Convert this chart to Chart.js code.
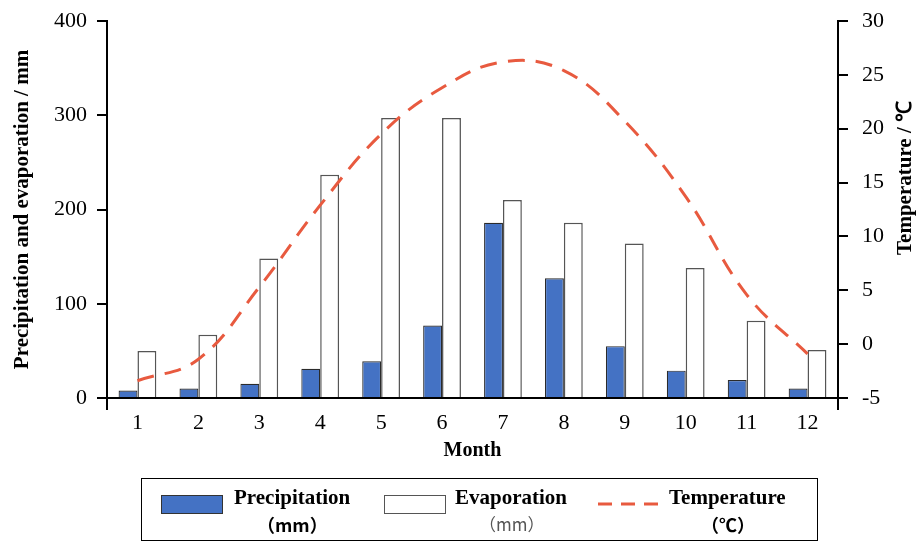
<!DOCTYPE html>
<html>
<head>
<meta charset="utf-8">
<script src="https://cdn.jsdelivr.net/npm/chart.js@4.4.1/dist/chart.umd.min.js"></script>
<style>
  html, body { margin: 0; padding: 0; background: #fff; }
  #wrap { position: relative; width: 917px; height: 543px; }
  #legend {
    position: absolute; left: 141px; top: 478px; width: 675px; height: 61px;
    border: 1px solid #000; font-family: 'Liberation Serif', serif; color: #000;
  }
  .item { position: absolute; top: 0; height: 61px; }
  .sw { position: absolute; top: 16px; width: 62px; height: 19px; box-sizing: border-box; }
  .t1 { position: absolute; top: 6px; font-weight: bold; font-size: 21px; white-space: nowrap; }
  .t2 { position: absolute; top: 32px; font-size: 18px; white-space: nowrap; font-family: 'Noto Sans CJK SC', 'Liberation Serif', serif; }
</style>
</head>
<body>
<div id="wrap">
  <canvas id="chart" width="917" height="543"></canvas>
  <div id="legend">
    <div class="item" style="left:19px">
      <div class="sw" style="background:#4472c4;border:1px solid #333"></div>
      <div class="t1" style="left:73px">Precipitation</div>
      <div class="t2" style="left:96px;font-weight:bold">（mm）</div>
    </div>
    <div class="item" style="left:242px">
      <div class="sw" style="background:#fff;border:1.5px solid #555"></div>
      <div class="t1" style="left:71px">Evaporation</div>
      <div class="t2" style="left:95px;color:#555;font-size:17px">（mm）</div>
    </div>
    <div class="item" style="left:455px">
      <svg style="position:absolute;left:0;top:22px" width="70" height="6"><line x1="1" y1="3" x2="68" y2="3" stroke="#e85a3f" stroke-width="3" stroke-dasharray="14,9"/></svg>
      <div class="t1" style="left:72px">Temperature</div>
      <div class="t2" style="left:104px;font-weight:bold">（℃）</div>
    </div>
  </div>
</div>
<script>
// Monthly data
var months = ["1", "2", "3", "4", "5", "6", "7", "8", "9", "10", "11", "12"];
var precipitation = [8, 10, 15, 31, 39, 77, 186, 127, 55, 29, 19, 10];
var evaporation = [50, 67, 148, 237, 297, 297, 210, 186, 164, 138, 82, 51];
var temperature = [-3.4, -1.4, 5.3, 12.9, 19.5, 23.8, 26.2, 25.4, 20.7, 13.7, 4.6, -0.9];

var serif = "'Liberation Serif', 'Times New Roman', serif";

// right axis title drawn by hand so it sits where the original has it
var rightTitle = {
  id: 'rightTitle',
  afterDraw: function (chart) {
    var c = chart.ctx;
    c.save();
    c.translate(906, 178);
    c.rotate(-Math.PI / 2);
    c.font = "bold 21px " + serif;
    c.fillStyle = '#000';
    c.textAlign = 'center';
    c.textBaseline = 'middle';
    c.fillText('Temperature / ℃', 0, 0);
    c.restore();
  }
};

var ctx = document.getElementById("chart").getContext("2d");
new Chart(ctx, {
  data: {
    labels: months,
    datasets: [
      {
        type: 'line',
        label: 'Temperature',
        data: temperature,
        yAxisID: 'y2',
        borderColor: '#e85a3f',
        borderWidth: 3,
        borderDash: [17, 11],
        pointRadius: 0,
        tension: 0.4,
        fill: false
      },
      {
        type: 'bar',
        label: 'Precipitation',
        data: precipitation,
        yAxisID: 'y',
        backgroundColor: '#4472c4',
        borderColor: '#2b2b2b',
        borderWidth: 1.2,
        barPercentage: 1,
        categoryPercentage: 0.62
      },
      {
        type: 'bar',
        label: 'Evaporation',
        data: evaporation,
        yAxisID: 'y',
        backgroundColor: '#ffffff',
        borderColor: '#555555',
        borderWidth: 1.5,
        barPercentage: 1,
        categoryPercentage: 0.62
      }
    ]
  },
  options: {
    responsive: false,
    animation: false,
    layout: { padding: { top: 21, left: 0, right: 0, bottom: 80 } },
    plugins: { legend: { display: false }, tooltip: { enabled: false } },
    scales: {
      x: {
        afterFit: function (s) { s.height = 65; s.paddingLeft = 0; s.paddingRight = 0; },
        grid: {
          drawOnChartArea: false,
          tickLength: 12,
          lineWidth: 2,
          color: function (c) { return (c.type !== 'tick' || c.index === 0) ? '#000' : 'rgba(0,0,0,0)'; }
        },
        border: { display: true, color: '#000', width: 2 },
        ticks: { color: '#000', font: { family: serif, size: 22 }, padding: 0 },
        title: {
          display: true, text: 'Month', color: '#000',
          font: { family: serif, size: 20, weight: 'bold' }, padding: { top: 2, bottom: 0 }
        }
      },
      y: {
        position: 'left',
        min: 0, max: 400,
        afterFit: function (s) { s.width = 107; s.paddingTop = 0; s.paddingBottom = 0; },
        grid: { drawOnChartArea: false, tickLength: 10, lineWidth: 2, color: '#000' },
        border: { display: true, color: '#000', width: 2 },
        ticks: { stepSize: 100, color: '#000', font: { family: serif, size: 22 }, padding: 10 },
        title: {
          display: true, text: 'Precipitation and evaporation / mm', color: '#000',
          font: { family: serif, size: 21, weight: 'bold' }, padding: { top: 10, bottom: 0 }
        }
      },
      y2: {
        position: 'right',
        min: -5, max: 30,
        afterFit: function (s) { s.width = 79; s.paddingTop = 0; s.paddingBottom = 0; },
        grid: { drawOnChartArea: false, tickLength: 10, lineWidth: 2, color: '#000' },
        border: { display: true, color: '#000', width: 2 },
        ticks: { stepSize: 5, color: '#000', font: { family: serif, size: 22 }, padding: 14 }
      }
    }
  },
  plugins: [rightTitle]
});
</script>
</body>
</html>
